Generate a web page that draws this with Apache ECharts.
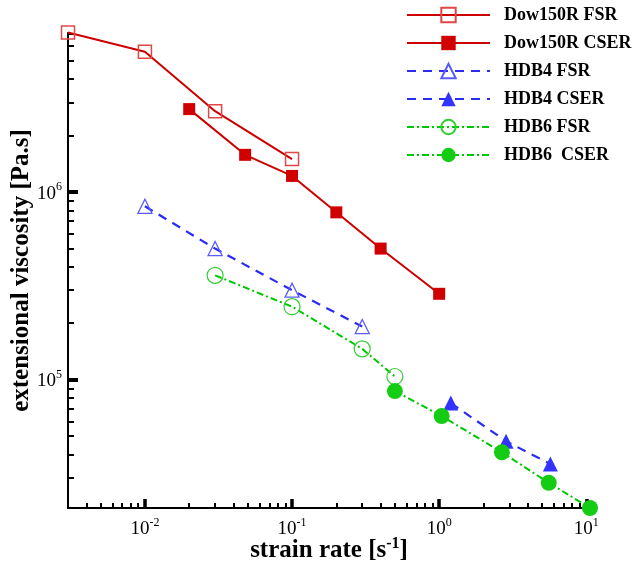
<!DOCTYPE html>
<html><head><meta charset="utf-8">
<script src="https://cdn.jsdelivr.net/npm/echarts@6/dist/echarts.min.js"></script>
<style>html,body{margin:0;padding:0;background:#fff}#c{width:637px;height:564px}</style>
</head><body><div id="c"></div>
<script>
// ---- data ----
const seriesNames = ['Dow150R FSR', 'Dow150R CSER', 'HDB4 FSR', 'HDB4 CSER', 'HDB6 FSR', 'HDB6  CSER'];
const dowFsrX  = [0.003, 0.01, 0.03, 0.1];
const dowFsrY  = [7.1e6, 5.6e6, 2.7e6, 1.5e6];
const dowCserX = [0.02, 0.048, 0.1, 0.2, 0.4, 1.0];
const dowCserY = [2.77e6, 1.58e6, 1.22e6, 7.8e5, 5.0e5, 2.87e5];
const hdb4FsrX = [0.01, 0.03, 0.1, 0.3];
const hdb4FsrY = [8.4e5, 5.0e5, 3.0e5, 1.92e5];
const hdb4CserX = [1.2, 2.85, 5.7];
const hdb4CserY = [7.5e4, 4.7e4, 3.55e4];
const hdb6FsrX = [0.03, 0.1, 0.3, 0.5];
const hdb6FsrY = [3.6e5, 2.45e5, 1.46e5, 1.04e5];
const hdb6CserX = [0.5, 1.04, 2.67, 5.56, 10.6];
const hdb6CserY = [8.7e4, 6.4e4, 4.1e4, 2.82e4, 2.07e4];
const xMajorTicks = [0.01, 0.1, 1, 10];
const yMajorTicks = [1e5, 1e6];
const minorMultipliers = [2, 3, 4, 5, 6, 7, 8, 9];
const xTitle = 'strain rate [s{s|-1}]';
const yTitle = 'extensional viscosity [Pa.s]';

// ---- helpers ----
const L = v => Math.log10(v);
const pairs = (xs, ys) => xs.map((x, i) => [L(x), L(ys[i])]);
const xMin = 0.003, xMax = 10.6, yMin = 2.07e4, yMax = 7.05e6;
function minors(lo, hi) {
  const out = [];
  for (let e = Math.floor(L(lo)); e <= Math.ceil(L(hi)); e++) {
    for (const m of minorMultipliers) {
      const v = m * Math.pow(10, e);
      if (v > lo * 1.001 && v < hi * 0.999) out.push(L(v));
    }
  }
  return out;
}
const FONT = 'Liberation Serif';
const tickLabel = {
  show: true, margin: 7, color: '#000', fontFamily: FONT, fontSize: 19,
  formatter: v => '{b|10}{s|' + Math.round(v) + '}',
  rich: {
    b: { fontFamily: FONT, fontSize: 19, color: '#000', verticalAlign: 'bottom', lineHeight: 22 },
    s: { fontFamily: FONT, fontSize: 12, color: '#000', verticalAlign: 'top', lineHeight: 22 }
  }
};
const axisLine = { show: true, onZero: false, lineStyle: { color: '#000', width: 2 } };
const hiddenLine = { show: false, onZero: false };
const nameStyle = {
  fontFamily: FONT, fontSize: 25, fontWeight: 'bold', color: '#000',
  rich: { s: { fontFamily: FONT, fontSize: 16, fontWeight: 'bold', color: '#000', verticalAlign: 'top', lineHeight: 29 } }
};

function mk(name, xs, ys, o) {
  return {
    name: name, type: 'line', xAxisIndex: 0, yAxisIndex: 0, clip: false,
    data: pairs(xs, ys), symbol: o.symbol, symbolSize: o.size,
    lineStyle: { color: o.line, width: o.width || 2, type: o.dash || 'solid' },
    itemStyle: o.itemStyle, emphasis: { disabled: true }, z: o.z || 2
  };
}

const option = {
  animation: false,
  backgroundColor: '#fff',
  grid: { left: 68, right: 47, top: 33, bottom: 56, containLabel: false, outerBoundsMode: 'none' },
  legend: {
    orient: 'vertical', left: 406, top: 6, padding: 0, itemWidth: 83, itemHeight: 18, itemGap: 10,
    textStyle: { fontFamily: FONT, fontWeight: 'bold', fontSize: 18, color: '#000', lineHeight: 18, padding: [0, 0, 0, 9] },
    data: seriesNames
  },
  xAxis: [
    {
      type: 'value', min: L(xMin), max: L(xMax), position: 'bottom',
      name: xTitle, nameLocation: 'middle', nameGap: 28, nameMoveOverlap: false, nameTextStyle: nameStyle,
      axisLine: axisLine, splitLine: { show: false },
      axisTick: { show: true, inside: true, length: 9, customValues: xMajorTicks.map(L), lineStyle: { color: '#000', width: 3.5 } },
      axisLabel: Object.assign({}, tickLabel, { customValues: xMajorTicks.map(L), margin: 9 })
    },
    {
      type: 'value', min: L(xMin), max: L(xMax), position: 'bottom', offset: 0,
      axisLine: hiddenLine, splitLine: { show: false }, axisLabel: { show: false },
      axisTick: { show: true, inside: true, length: 5, customValues: minors(xMin, xMax), lineStyle: { color: '#000', width: 2 } }
    }
  ],
  yAxis: [
    {
      type: 'value', min: L(yMin), max: L(yMax), position: 'left',
      name: yTitle, nameLocation: 'middle', nameGap: 34, nameMoveOverlap: false, nameTextStyle: nameStyle,
      axisLine: axisLine, splitLine: { show: false },
      axisTick: { show: true, inside: true, length: 10, customValues: yMajorTicks.map(L), lineStyle: { color: '#000', width: 4 } },
      axisLabel: Object.assign({}, tickLabel, { customValues: yMajorTicks.map(L), margin: 6 })
    },
    {
      type: 'value', min: L(yMin), max: L(yMax), position: 'left', offset: 0,
      axisLine: hiddenLine, splitLine: { show: false }, axisLabel: { show: false },
      axisTick: { show: true, inside: true, length: 6, customValues: minors(yMin, yMax), lineStyle: { color: '#000', width: 2 } }
    }
  ],
  series: [
    mk(seriesNames[0], dowFsrX, dowFsrY, { symbol: 'rect', size: 13, line: '#cc0000',
      itemStyle: { color: 'rgba(255,255,255,0)', borderColor: '#e04848', borderWidth: 1.5 } }),
    mk(seriesNames[1], dowCserX, dowCserY, { symbol: 'rect', size: 12, line: '#cc0000',
      itemStyle: { color: '#d00000', borderWidth: 0 } }),
    mk(seriesNames[2], hdb4FsrX, hdb4FsrY, { symbol: 'triangle', size: 14, line: '#2b2bf5', dash: [9, 7], width: 2.2,
      itemStyle: { color: 'rgba(255,255,255,0)', borderColor: '#5a5aff', borderWidth: 1.3 } }),
    mk(seriesNames[3], hdb4CserX, hdb4CserY, { symbol: 'triangle', size: 15, line: '#2b2bf5', dash: [9, 7], width: 2.2,
      itemStyle: { color: '#3333ff', borderWidth: 0 } }),
    mk(seriesNames[4], hdb6FsrX, hdb6FsrY, { symbol: 'circle', size: 16, line: '#00c800', dash: [7, 3, 2, 3],
      itemStyle: { color: 'rgba(255,255,255,0)', borderColor: '#33cc33', borderWidth: 1.2 } }),
    mk(seriesNames[5], hdb6CserX, hdb6CserY, { symbol: 'circle', size: 16, line: '#00c800', dash: [7, 3, 2, 3],
      itemStyle: { color: '#14cc14', borderWidth: 0 } })
  ]
};
const chart = echarts.init(document.getElementById('c'), null, { renderer: 'canvas' });
chart.setOption(option);
</script></body></html>
